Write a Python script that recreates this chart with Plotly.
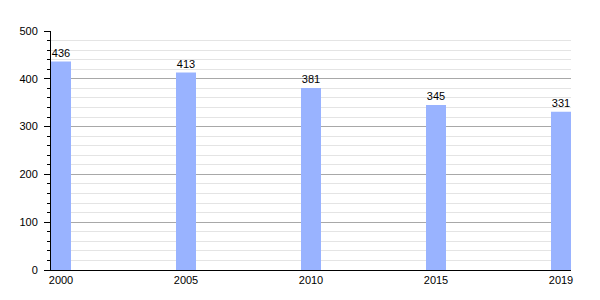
import plotly.graph_objects as go

years = ["2000", "2005", "2010", "2015", "2019"]
values = [436, 413, 381, 345, 331]

fig = go.Figure(go.Bar(
    x=years, y=values,
    width=0.16,
    marker=dict(color="#99b3ff", line=dict(width=0)),
    text=[str(v) for v in values],
    textposition="outside",
    textfont=dict(family="Liberation Sans, Arial", size=11, color="black"),
    cliponaxis=False,
))

fig.update_layout(
    width=600, height=300,
    margin=dict(l=51, r=29, t=31, b=30),
    plot_bgcolor="white", paper_bgcolor="white",
    showlegend=False,
    font=dict(family="Liberation Sans, Arial", size=11, color="black"),
    xaxis=dict(
        type="category", range=[-0.08, 4.08],
        showgrid=False, showline=True, linecolor="black", linewidth=1,
        ticks="", tickfont=dict(size=11, color="black"),
    ),
    yaxis=dict(
        range=[0, 500], dtick=100, tick0=0,
        showgrid=True, gridcolor="#a8a8a8", gridwidth=1,
        showline=True, linecolor="black", linewidth=1,
        ticks="outside", ticklen=6, tickcolor="black",
        zeroline=False,
        minor=dict(dtick=20, showgrid=True, gridcolor="#e4e4e4", gridwidth=1,
                   ticks="outside", ticklen=3, tickcolor="black"),
        tickfont=dict(size=11, color="black"),
        ticklabelstandoff=4,
    ),
)

fig.write_html("out.html")
